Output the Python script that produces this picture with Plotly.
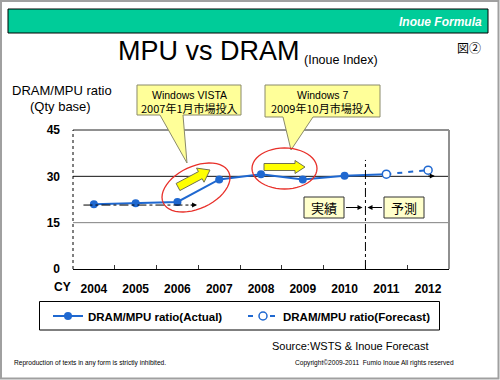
import math
import plotly.graph_objects as go

# ---------------- data ----------------
years = [2004, 2005, 2006, 2007, 2008, 2009, 2010, 2011, 2012]
actual_years = [2004, 2005, 2006, 2007, 2008, 2009, 2010]
actual_vals = [21.0, 21.3, 21.7, 29.0, 30.7, 29.0, 30.2]
forecast_years = [2011, 2012]
forecast_vals = [30.7, 32.0]
year_labels = ["2004", "2005", "2006", "2007", "2008", "2009", "2010", "2011", "2012"]
y_ticks = [0, 15, 30, 45]

BLUE = "#1f68d0"
W, H = 500, 380
L, R, T, B = 73, 449, 130, 269  # plot area pixel box


def px(x):
    return (x - L) / (R - L)


def py(y):
    return (B - y) / (B - T)


def path_from(points):
    s = "M " + " L ".join(f"{px(x):.5f},{py(y):.5f}" for x, y in points) + " Z"
    return s


fig = go.Figure()

# actual series
fig.add_trace(go.Scatter(
    x=actual_years, y=actual_vals, mode="lines+markers", name="DRAM/MPU ratio(Actual)",
    line=dict(color=BLUE, width=2), marker=dict(color=BLUE, size=8, symbol="circle"),
    cliponaxis=False, legend="legend"))
# connector from last actual to first forecast
fig.add_trace(go.Scatter(
    x=[actual_years[-1], forecast_years[0]], y=[actual_vals[-1], forecast_vals[0]],
    mode="lines", line=dict(color=BLUE, width=2), showlegend=False, hoverinfo="skip"))
# forecast series
fig.add_trace(go.Scatter(
    x=forecast_years, y=forecast_vals, mode="lines+markers", name="DRAM/MPU ratio(Forecast)",
    line=dict(color=BLUE, width=2, dash="5px,6px"),
    marker=dict(color="white", size=8, symbol="circle", line=dict(color=BLUE, width=1.5)),
    cliponaxis=False, legend="legend2"))

shapes = []
ann = []

# outer frame
shapes.append(dict(type="rect", xref="paper", yref="paper", x0=px(1), x1=px(498.5), y0=py(1), y1=py(378.5),
                   line=dict(color="#a0a0a0", width=2), layer="below"))
# header bar
shapes.append(dict(type="rect", xref="paper", yref="paper", x0=px(8), x1=px(488), y0=py(9), y1=py(33),
                   fillcolor="#00cc99", line=dict(color="black", width=1)))
# plot frame lines
shapes.append(dict(type="line", xref="paper", yref="paper", x0=0, x1=1, y0=1, y1=1,
                   line=dict(color="#222", width=1)))
shapes.append(dict(type="line", xref="paper", yref="paper", x0=1, x1=1, y0=0, y1=1,
                   line=dict(color="#909090", width=2)))
shapes.append(dict(type="line", xref="paper", yref="paper", x0=0, x1=0, y0=0, y1=1,
                   line=dict(color="black", width=1, dash="dot")))
# gridlines
shapes.append(dict(type="line", xref="paper", yref="y", x0=0, x1=1, y0=y_ticks[2], y1=y_ticks[2],
                   line=dict(color="#111", width=1), layer="below"))
shapes.append(dict(type="line", xref="paper", yref="y", x0=0, x1=1, y0=y_ticks[1], y1=y_ticks[1],
                   line=dict(color="#808080", width=1), layer="below"))
# vertical separator actual / forecast
shapes.append(dict(type="line", xref="x", yref="y", x0=2010.5, x1=2010.5, y0=0, y1=35.3,
                   line=dict(color="black", width=1, dash="dashdot")))
# dash-dot trend arrow 2004-2006
shapes.append(dict(type="line", xref="x", yref="y", x0=2003.75, x1=2006.4, y0=20.7, y1=20.7,
                   line=dict(color="black", width=1, dash="dashdot")))
ann.append(dict(x=2006.47, y=20.7, xref="x", yref="y", ax=-8, ay=0, text="", showarrow=True,
                arrowhead=2, arrowsize=1, arrowwidth=1, arrowcolor="black"))
ann.append(dict(x=2012.16, y=30.1, xref="x", yref="y", ax=-8, ay=0, text="", showarrow=True,
                arrowhead=2, arrowsize=1, arrowwidth=1, arrowcolor="black"))

# callouts
vista = [(137, 85), (241, 85), (241, 115), (183, 115), (187, 163), (160, 115), (137, 115)]
win7 = [(265, 85), (380, 85), (380, 117), (313, 117), (291, 150), (283, 117), (265, 117)]
for pts in (vista, win7):
    shapes.append(dict(type="path", xref="paper", yref="paper", path=path_from(pts),
                       fillcolor="#ffff99", line=dict(color="#8a8a6a", width=1)))


# red ellipses
def ellipse(cx, cy, a, b, phi_deg, n=48):
    phi = math.radians(phi_deg)
    ux, uy = math.cos(phi), -math.sin(phi)
    vx, vy = math.sin(phi), math.cos(phi)
    pts = []
    for i in range(n):
        t = 2 * math.pi * i / n
        pts.append((cx + a * math.cos(t) * ux + b * math.sin(t) * vx,
                    cy + a * math.cos(t) * uy + b * math.sin(t) * vy))
    return pts


shapes.append(dict(type="path", xref="paper", yref="paper", path=path_from(ellipse(196, 187.5, 36.2, 21.1, 25)),
                   line=dict(color="#e8302a", width=1.3)))
shapes.append(dict(type="path", xref="paper", yref="paper", path=path_from(ellipse(284.5, 168.5, 32.5, 20.5, 0)),
                   line=dict(color="#e8302a", width=1.3)))


# yellow block arrows
def block_arrow(tail, tip, bw, hw, hl):
    dx, dy = tip[0] - tail[0], tip[1] - tail[1]
    ln = math.hypot(dx, dy)
    ux, uy = dx / ln, dy / ln
    nx, ny = -uy, ux
    neck = (tip[0] - hl * ux, tip[1] - hl * uy)
    return [(tail[0] + bw * nx, tail[1] + bw * ny), (neck[0] + bw * nx, neck[1] + bw * ny),
            (neck[0] + hw * nx, neck[1] + hw * ny), tip,
            (neck[0] - hw * nx, neck[1] - hw * ny), (neck[0] - bw * nx, neck[1] - bw * ny),
            (tail[0] - bw * nx, tail[1] - bw * ny)]


shapes.append(dict(type="path", xref="paper", yref="paper", path=path_from(block_arrow((178, 187), (210, 170), 4, 8, 11)),
                   fillcolor="#ffff00", line=dict(color="#707050", width=1)))
shapes.append(dict(type="path", xref="paper", yref="paper", path=path_from(block_arrow((264, 167), (305, 167), 3.5, 6.5, 10)),
                   fillcolor="#ffff00", line=dict(color="#707050", width=1)))

# 実績 / 予測 boxes
for x0, x1 in ((304, 344), (384, 424)):
    shapes.append(dict(type="rect", xref="paper", yref="paper", x0=px(x0), x1=px(x1), y0=py(197), y1=py(218),
                       fillcolor="#ffffcc", line=dict(color="#333", width=1)))
ann.append(dict(x=px(362.5), y=py(207.5), xref="paper", yref="paper", ax=-18, ay=0, text="", showarrow=True,
                arrowhead=2, arrowsize=1, arrowwidth=1, arrowcolor="black"))
ann.append(dict(x=px(367.5), y=py(207.5), xref="paper", yref="paper", ax=16, ay=0, text="", showarrow=True,
                arrowhead=2, arrowsize=1, arrowwidth=1, arrowcolor="black"))

# legend box
shapes.append(dict(type="rect", xref="paper", yref="paper", x0=px(39.5), x1=px(439.5), y0=py(301.5), y1=py(330),
                   line=dict(color="black", width=1)))

SANS = "Liberation Sans, Arial, sans-serif"
JP = "Noto Sans CJK JP, sans-serif"


def text(x, y, s, size, family=SANS, color="black", xanchor="left", **kw):
    ann.append(dict(x=px(x), y=py(y), xref="paper", yref="paper", text=s, showarrow=False,
                    xanchor=xanchor, yanchor="middle", font=dict(size=size, family=family, color=color), **kw))


text(484, 21.5, "<b><i>Inoue Formula</i></b>", 12, color="white", xanchor="right")
text(302, 51, "MPU vs DRAM", 27, xanchor="right")
text(302, 60, "(Inoue Index)", 12.5)
text(455, 48, "図②", 12, family=JP)
text(62, 90, "DRAM/MPU ratio", 13, xanchor="center")
text(60, 106, "(Qty base)", 13, xanchor="center")
text(62, 287, "<b>CY</b>", 12, xanchor="center")
text(189, 95, "Windows VISTA", 10.5, xanchor="center")
text(189, 108, "2007年1月市場投入", 11, family=JP, xanchor="center")
text(322.5, 95, "Windows 7", 10.5, xanchor="center")
text(322.5, 108, "2009年10月市場投入", 11, family=JP, xanchor="center")
text(324, 207.5, "実績", 13, family=JP, xanchor="center")
text(404, 207.5, "予測", 13, family=JP, xanchor="center")
text(431, 346, "Source:WSTS &amp; Inoue Forecast", 11, xanchor="right")
text(12, 363, "Reproduction of texts in any form is strictly inhibited.", 6.6)
text(456, 363, "Copyright©2009-2011  Fumio Inoue All rights reserved", 6.6, xanchor="right")

legfont = dict(size=11.5, family=SANS, color="black", weight="bold")
fig.update_layout(
    width=W, height=H,
    margin=dict(l=L, r=W - R, t=T, b=H - B, autoexpand=False),
    paper_bgcolor="white", plot_bgcolor="white",
    font=dict(family=SANS, color="black"),
    showlegend=True,
    legend=dict(orientation="h", x=px(48), y=py(316), xanchor="left", yanchor="middle",
                bgcolor="rgba(0,0,0,0)", borderwidth=0, font=legfont),
    legend2=dict(orientation="h", x=px(243), y=py(316), xanchor="left", yanchor="middle",
                 bgcolor="rgba(0,0,0,0)", borderwidth=0, font=legfont),
    xaxis=dict(range=[2003.5, 2012.5], tickmode="array", tickvals=years, ticktext=[f"<b>{t}</b>" for t in year_labels],
               showgrid=False, zeroline=False, showline=True, linecolor="black", linewidth=1,
               ticks="", ticklabelstandoff=9, tickfont=dict(size=12, family=SANS),
               minor=dict(tickmode="array", tickvals=[y + 0.5 for y in years[:-1]], ticks="inside",
                          ticklen=4, tickcolor="#333", tickwidth=1, showgrid=False),
               fixedrange=True),
    yaxis=dict(range=[0, 45], tickmode="array", tickvals=y_ticks, ticktext=[f"<b>{v}</b>" for v in y_ticks],
               showgrid=False, zeroline=False, showline=False, ticks="", ticklabelstandoff=12,
               tickfont=dict(size=12, family=SANS), fixedrange=True),
    shapes=shapes, annotations=ann,
)

fig.write_html("out.html", config={"displayModeBar": False},
               post_script="document.body.style.margin='0';document.body.style.padding='0';")
